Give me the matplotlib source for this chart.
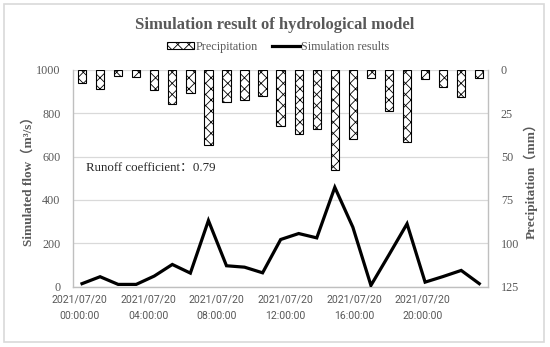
import numpy as np
import matplotlib
matplotlib.use("Agg")
import matplotlib.pyplot as plt
from matplotlib.patches import Rectangle

# ---- data ----
precip_mm = [7.5, 11, 3.7, 4.4, 11.8, 19.9, 13.5, 43.2, 18.8, 17.2, 14.9, 32.7,
             37, 34, 57.9, 39.9, 4.6, 24, 41.8, 5.6, 10.2, 15.9, 5]
flow = [14, 46, 10.6, 10.6, 49, 102.5, 62.6, 305, 96.5, 90, 64, 217.5,
        245, 225, 458, 274, 6, 147, 290, 21, 47, 75, 14]
tick_labels = ["2021/07/20\n00:00:00", "2021/07/20\n04:00:00", "2021/07/20\n08:00:00",
               "2021/07/20\n12:00:00", "2021/07/20\n16:00:00", "2021/07/20\n20:00:00"]
flow_ticks = [0, 200, 400, 600, 800, 1000]
precip_ticks = [0, 25, 50, 75, 100, 125]

GRAY = "#595959"
SERIF = ["Liberation Serif", "Noto Sans CJK SC", "DejaVu Sans"]
plt.rcParams["hatch.linewidth"] = 0.6

fig = plt.figure(figsize=(5.5, 3.47), dpi=100)
fig.patches.append(Rectangle((3.5 / 550, 1 - 341.5 / 347), (544 - 3.5) / 550, (341.5 - 4) / 347,
                             transform=fig.transFigure, fill=False, edgecolor="#d9d9d9", lw=1.2))

ax = fig.add_axes([73 / 550, 1 - 286.7 / 347, (488.3 - 73) / 550, (286.7 - 69.7) / 347])
ax2 = ax.twinx()

x = np.arange(len(flow))

# precipitation bars (right axis, inverted)
bars = ax2.bar(x, precip_mm, width=0.46, color="white", edgecolor="black", hatch="xxx",
               linewidth=0.8, label="Precipitation", zorder=2)
ax2.set_ylim(125, 0)
ax2.set_yticks(precip_ticks)
ax2.grid(axis="y", color="#d9d9d9", lw=0.9, zorder=0)
ax2.set_axisbelow(True)

# flow line (left axis)
line, = ax.plot(x, flow, color="black", lw=2.3, label="Simulation results", zorder=5,
                solid_joinstyle="miter")
ax.set_ylim(0, 1000)
ax.set_yticks(flow_ticks)
ax.set_xlim(-0.5, len(flow) - 0.5)
ax.set_zorder(ax2.get_zorder() + 1)
ax.patch.set_visible(False)

tick_pos = np.arange(len(tick_labels)) * 3.8 - 0.14
ax.set_xticks(tick_pos)
ax.set_xticklabels(tick_labels, fontsize=7.6, color=GRAY, family=["Roboto", "DejaVu Sans"],
                   linespacing=1.8, multialignment="center")
ax.tick_params(axis="x", length=0, pad=5.5)

for a in (ax, ax2):
    a.tick_params(axis="y", length=0, pad=9, labelsize=8.7, labelcolor=GRAY)
    for lab in a.get_yticklabels():
        lab.set_family(SERIF)
    for s in a.spines.values():
        s.set_visible(False)
for side in ("left", "right", "bottom"):
    ax.spines[side].set_visible(True)
    ax.spines[side].set_color("#bfbfbf")
    ax.spines[side].set_linewidth(1.0)

ax.set_ylabel("Simulated flow（m³/s）", family=SERIF, fontsize=9.5, fontweight="bold",
              color=GRAY, labelpad=1)
ax2.set_ylabel("Precipitation（mm）", family=SERIF, fontsize=9.5, fontweight="bold",
               color=GRAY, labelpad=3)

ax.text(86 / 550, 1 - 168 / 347, "Runoff coefficient：0.79", transform=fig.transFigure,
        family=SERIF, fontsize=9.3, color="#262626", va="center", ha="left")

fig.text(0.5, 1 - 25 / 347, "Simulation result of hydrological model", family=SERIF,
         fontsize=12, fontweight="bold", color=GRAY, ha="center", va="center")

fig.legend([bars, line], ["Precipitation", "Simulation results"], loc="center",
           bbox_to_anchor=(278 / 550, 1 - 47 / 347), ncol=2, frameon=False,
           prop={"family": SERIF, "size": 8.7}, labelcolor=GRAY, handlelength=2.3,
           handletextpad=0.1, columnspacing=1.2, handleheight=0.5)

fig.savefig("out.png", dpi=100)
